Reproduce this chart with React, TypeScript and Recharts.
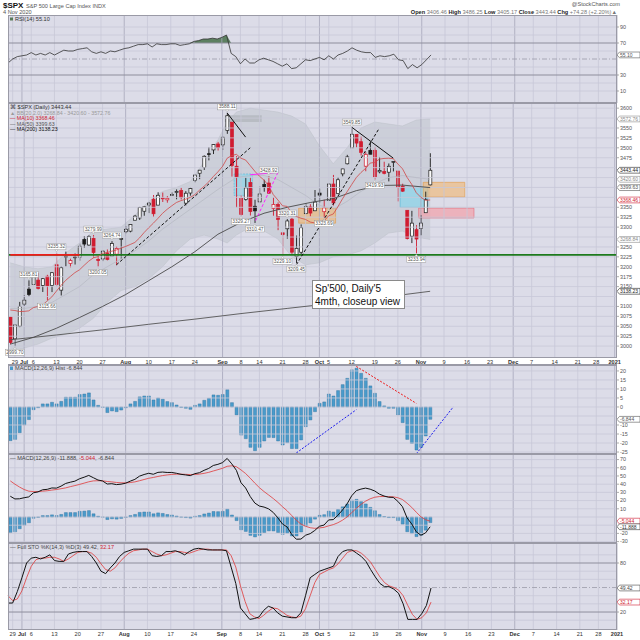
import React from "react"
import { ComposedChart, Bar, Line, Area, XAxis, YAxis, ReferenceLine, ReferenceArea, ReferenceDot } from "recharts"

// ---- price data, Jun 26 .. Nov 4 2020 (one entry per trading day)
const PRIOR_CLOSE = 3083.76
const opens = [
  3073.2, 3018.6, 3050.2, 3105.9, 3143.6, 3155.3, 3166.4, 3153.1, 3176.2, 3152.5,
  3205.1, 3141.1, 3226.0, 3208.4, 3224.2, 3224.3, 3268.5, 3254.9, 3271.6, 3218.6,
  3219.8, 3234.3, 3227.2, 3231.8, 3270.5, 3288.3, 3289.9, 3317.4, 3323.2, 3340.1,
  3356.0, 3370.3, 3355.5, 3372.9, 3368.7, 3380.9, 3387.0, 3392.5, 3360.5, 3386.0,
  3418.1, 3435.9, 3450.0, 3485.1, 3494.7, 3509.7, 3507.4, 3543.8, 3564.7, 3453.6,
  3371.9, 3369.8, 3412.6, 3352.7, 3363.6, 3407.7, 3411.2, 3346.9, 3357.4, 3285.6,
  3295.8, 3320.1, 3226.1, 3236.7, 3333.9, 3350.9, 3341.2, 3385.9, 3338.9, 3367.3,
  3408.7, 3384.6, 3434.3, 3459.7, 3500.0, 3534.0, 3515.5, 3453.7, 3493.5, 3493.7,
  3439.4, 3439.9, 3438.5, 3464.9, 3441.4, 3403.2, 3342.5, 3277.2, 3293.6, 3296.2,
  3336.3, 3406.5,
]
const highs = [
  3073.7, 3053.9, 3111.5, 3128.4, 3165.8, 3182.6, 3184.2, 3171.8, 3179.8, 3186.8,
  3235.3, 3200.9, 3238.3, 3220.4, 3233.5, 3258.6, 3277.3, 3279.3, 3280.0, 3227.3,
  3241.4, 3243.7, 3264.7, 3250.9, 3272.2, 3302.7, 3306.8, 3330.8, 3351.0, 3352.5,
  3363.3, 3381.0, 3387.9, 3387.2, 3378.5, 3387.6, 3395.1, 3399.5, 3390.8, 3400.0,
  3432.1, 3444.2, 3481.1, 3501.4, 3509.2, 3514.8, 3528.0, 3588.1, 3564.9, 3479.2,
  3380.0, 3424.8, 3425.6, 3369.0, 3402.9, 3419.5, 3428.9, 3375.2, 3362.3, 3285.6,
  3320.3, 3323.4, 3278.7, 3306.9, 3360.7, 3357.9, 3393.6, 3397.2, 3369.1, 3409.6,
  3431.6, 3426.3, 3447.3, 3482.3, 3549.9, 3534.0, 3527.9, 3489.1, 3515.8, 3502.4,
  3476.9, 3464.9, 3460.5, 3466.5, 3441.4, 3409.5, 3342.5, 3341.1, 3304.9, 3330.1,
  3389.5, 3486.3,
]
const lows = [
  3004.6, 2999.7, 3047.8, 3101.0, 3124.5, 3155.3, 3142.9, 3136.5, 3115.7, 3136.2,
  3149.4, 3127.7, 3200.8, 3198.6, 3205.7, 3215.2, 3247.8, 3253.1, 3222.7, 3200.1,
  3214.3, 3216.2, 3227.2, 3204.1, 3220.3, 3284.5, 3286.9, 3317.4, 3318.1, 3328.7,
  3335.4, 3326.4, 3355.5, 3363.4, 3361.6, 3379.2, 3370.2, 3369.7, 3354.7, 3379.3,
  3413.1, 3421.0, 3444.2, 3468.4, 3484.3, 3493.2, 3494.6, 3535.2, 3427.4, 3349.6,
  3329.3, 3366.8, 3329.3, 3310.5, 3363.6, 3389.3, 3384.5, 3328.8, 3292.4, 3229.1,
  3271.0, 3232.6, 3209.5, 3228.4, 3332.9, 3327.5, 3340.5, 3361.4, 3323.7, 3367.3,
  3354.5, 3384.6, 3428.2, 3458.1, 3499.6, 3500.9, 3480.6, 3440.9, 3483.8, 3419.9,
  3435.7, 3433.1, 3415.3, 3440.5, 3364.9, 3388.7, 3268.9, 3259.8, 3233.9, 3279.7,
  3336.3, 3405.2,
]
const closes = [
  3009.05, 3053.24, 3100.29, 3115.86, 3130.01, 3179.72, 3145.32, 3169.94, 3152.05, 3185.04,
  3155.22, 3197.52, 3226.56, 3215.57, 3224.73, 3251.84, 3257.3, 3276.02, 3235.66, 3215.63,
  3239.41, 3218.44, 3258.44, 3246.22, 3271.12, 3294.61, 3306.51, 3327.77, 3349.16, 3351.28,
  3360.47, 3333.69, 3380.35, 3373.43, 3372.85, 3381.99, 3389.78, 3374.85, 3385.51, 3397.16,
  3431.28, 3443.62, 3478.73, 3484.55, 3508.01, 3500.31, 3526.65, 3580.84, 3455.06, 3426.96,
  3331.84, 3398.96, 3339.19, 3340.97, 3383.54, 3401.2, 3385.49, 3357.01, 3319.47, 3281.06,
  3315.57, 3236.92, 3246.59, 3298.46, 3351.6, 3335.47, 3363.0, 3380.8, 3348.42, 3408.6,
  3360.97, 3419.44, 3446.83, 3477.14, 3534.22, 3511.93, 3488.67, 3483.34, 3483.81, 3426.92,
  3443.12, 3435.56, 3453.49, 3465.39, 3400.97, 3390.68, 3271.03, 3310.11, 3269.96, 3310.24,
  3369.16, 3443.44,
]
const ma10 = [
  3091.0, 3089.7, 3087.2, 3087.5, 3088.9, 3097.1, 3099.9, 3103.8, 3113.9, 3124.1,
  3138.7, 3153.1, 3165.7, 3175.7, 3185.2, 3192.4, 3203.6, 3214.2, 3222.5, 3225.6,
  3234.0, 3236.1, 3239.3, 3242.4, 3247.0, 3251.3, 3256.2, 3261.4, 3272.7, 3286.3,
  3298.4, 3309.9, 3322.1, 3334.8, 3345.0, 3353.8, 3362.1, 3366.8, 3370.4, 3375.0,
  3382.1, 3393.1, 3402.9, 3414.0, 3427.5, 3439.4, 3453.1, 3473.7, 3480.6, 3483.6,
  3473.7, 3469.2, 3455.2, 3440.9, 3428.4, 3418.5, 3404.4, 3382.0, 3368.5, 3353.9,
  3352.2, 3336.0, 3326.8, 3322.5, 3319.3, 3312.8, 3310.5, 3312.9, 3315.8, 3328.5,
  3333.1, 3351.3, 3371.4, 3389.2, 3407.5, 3425.1, 3437.7, 3448.0, 3461.5, 3463.3,
  3471.5, 3473.2, 3473.8, 3472.6, 3459.3, 3447.2, 3425.4, 3408.1, 3386.7, 3375.1,
  3367.7, 3368.46,
]
// smooth lines, read at intervals: [day index, value]
const ma50Pts = [[0, 3005], [5, 3022], [10, 3045], [15, 3072], [20, 3100], [25, 3130], [30, 3165], [35, 3200], [40, 3238], [45, 3282], [50, 3312], [55, 3335], [60, 3350], [65, 3362], [70, 3372], [75, 3392], [80, 3405], [85, 3406], [91, 3399.63]]
const ma200Pts = [[0, 3016], [10, 3028], [20, 3041], [30, 3055], [40, 3068], [50, 3082], [60, 3095], [70, 3108], [80, 3122], [91, 3138.23]]
// Bollinger bands: [day index, lower, middle, upper]
const bbPts = [
  [0, 2985, 3095, 3210], [3, 2995, 3095, 3200], [6, 3005, 3100, 3195], [9, 3020, 3110, 3200],
  [12, 3030, 3130, 3235], [15, 3045, 3150, 3260], [18, 3070, 3180, 3290], [21, 3110, 3200, 3295],
  [24, 3140, 3220, 3300], [27, 3150, 3240, 3330], [30, 3170, 3265, 3365], [33, 3200, 3295, 3390],
  [36, 3240, 3320, 3400], [39, 3270, 3345, 3415], [42, 3280, 3370, 3465], [45, 3270, 3395, 3520],
  [47, 3260, 3410, 3565], [49, 3280, 3425, 3590], [52, 3300, 3430, 3600], [55, 3290, 3430, 3595],
  [58, 3270, 3420, 3590], [61, 3225, 3400, 3580], [64, 3205, 3380, 3560], [67, 3210, 3355, 3505],
  [70, 3225, 3345, 3460], [73, 3230, 3365, 3500], [76, 3240, 3390, 3550], [79, 3260, 3410, 3565],
  [82, 3285, 3425, 3560], [85, 3290, 3430, 3555], [88, 3275, 3425, 3570], [91, 3268.84, 3420.6, 3572.76],
]

// ---- indicators
const rsi = [
  45, 50, 53, 54, 55, 58, 55, 57, 55, 58,
  55, 58, 61, 60, 60, 62, 63, 64, 59, 57,
  59, 57, 60, 59, 61, 63, 64, 66, 68, 68,
  69, 65, 69, 68, 68, 69, 69, 67, 68, 69,
  72, 73, 75, 75, 76, 75, 77, 80, 57, 53,
  44, 50, 45, 45, 49, 51, 49, 47, 44, 41,
  44, 38, 39, 44, 49, 48, 50, 52, 49, 54,
  50, 55, 57, 60, 64, 61, 59, 58, 58, 52,
  54, 53, 54, 56, 49, 48, 38, 43, 39, 43,
  49, 55.1,
]
const macdHist = [
  -18.7, -18, -14.3, -10, -7, -1.5, -0.4, 1.7, 1.7, 2.6,
  1.7, 3.1, 5.4, 5.4, 5.4, 6.9, 7.2, 7.8, 3.9, 0.9,
  -0.2, -3.1, -2.2, -2.6, -1.7, -0.4, 1.7, 3.1, 5.6, 6.1,
  6.1, 3.9, 5, 4.3, 3, 2.4, 1.1, -0.2, -0.7, -1.3,
  0.9, 1.7, 3.7, 4.8, 6.7, 6.5, 6.9, 9.6, 2.4, -4.4,
  -15.6, -17.6, -22.4, -24.3, -22.4, -18.9, -16.9, -17, -18.9, -21.1,
  -19.8, -23.1, -23.1, -18.3, -10.9, -7.2, -2.6, 2, 2.8, 7.2,
  6.1, 9.1, 12.4, 15.9, 20.6, 21.5, 18.7, 15.9, 11.7, 7.6,
  3, 0.6, -0.7, -0.7, -4.4, -8.7, -18, -20.2, -23.9, -22.4,
  -16.1, -6.844,
]
const macdLine = [
  25.3, 22, 22.2, 23.5, 24.5, 29.5, 30.6, 33.2, 33.7, 35.4,
  35.2, 37.6, 40.9, 42.4, 43.7, 46.6, 48.5, 50.7, 47.9, 45.1,
  43.9, 40.2, 40.6, 39.5, 40, 41.2, 43.7, 45.9, 49.8, 51.8,
  53.3, 52.1, 54.4, 54.8, 54.3, 54.3, 53.3, 52, 51.3, 50.4,
  52.8, 54, 56.9, 59.2, 62.8, 64.2, 66.3, 71.4, 64.8, 56.9,
  41.8, 35.4, 25, 17, 13.3, 12.1, 9.9, 5.5, -1.1, -8.6,
  -12.2, -21.3, -27.1, -26.9, -22.2, -20.3, -16.4, -11.3, -9.8, -3.6,
  -3.2, 2.1, 8.5, 16, 25.9, 32.1, 34, 35.2, 33.9, 31.7,
  27.9, 25.6, 24.1, 23.9, 19.1, 12.6, -1.2, -8.4, -18.1, -22.2,
  -19.4, -11.888,
]
const macdSignal = [
  44, 40, 36.5, 33.5, 31.5, 31, 31, 31.5, 32, 32.8,
  33.5, 34.5, 35.5, 37, 38.3, 39.7, 41.3, 42.9, 44, 44.2,
  44.1, 43.3, 42.8, 42.1, 41.7, 41.6, 42, 42.8, 44.2, 45.7,
  47.2, 48.2, 49.4, 50.5, 51.3, 51.9, 52.2, 52.2, 52, 51.7,
  51.9, 52.3, 53.2, 54.4, 56.1, 57.7, 59.4, 61.8, 62.4, 61.3,
  57.4, 53, 47.4, 41.3, 35.7, 31, 26.8, 22.5, 17.8, 12.5,
  7.6, 1.8, -4, -8.6, -11.3, -13.1, -13.8, -13.3, -12.6, -10.8,
  -9.3, -7, -3.9, 0.1, 5.3, 10.6, 15.3, 19.3, 22.2, 24.1,
  24.9, 25, 24.8, 24.6, 23.5, 21.3, 16.8, 11.8, 5.8, 0.2,
  -3.3, -5.044,
]
const stoK = [
  31, 31, 45, 62, 80, 86, 87, 85, 87, 90,
  83, 82, 82, 91, 93, 94, 94, 94, 88, 80,
  70, 67, 74, 80, 88, 93, 95, 97, 97, 97,
  97, 89, 88, 89, 94, 94, 95, 93, 90, 94,
  97, 98, 97, 96, 96, 96, 96, 95, 75, 55,
  25, 18, 11, 12, 14, 22, 27, 25, 19, 15,
  14, 13, 13, 19, 40, 62, 66, 70, 72, 74,
  76, 88, 94, 96, 96, 92, 88, 82, 72, 63,
  55, 51, 51, 48, 43, 30, 11, 11, 11, 18,
  28, 49.42,
]
const stoD = [
  40, 34, 36, 46, 62, 76, 84, 86, 86, 87,
  87, 85, 82, 85, 89, 93, 94, 94, 92, 87,
  79, 72, 70, 74, 81, 87, 92, 95, 96, 97,
  97, 94, 91, 89, 90, 92, 94, 94, 93, 92,
  94, 96, 97, 97, 96, 96, 96, 96, 89, 75,
  52, 33, 18, 14, 12, 16, 21, 25, 24, 20,
  16, 14, 13, 15, 24, 40, 56, 66, 69, 72,
  74, 79, 86, 93, 95, 95, 92, 87, 81, 72,
  63, 56, 52, 50, 47, 40, 28, 17, 11, 13,
  19, 32.17,
]

// ---- calendar axis (index of trading day -> label), to the end of 2020
const SLOTS = 132
const tickIdx = [1, 3, 5, 10, 15, 20, 25, 30, 35, 40, 46, 50, 54, 59, 64, 67, 69, 74, 79, 84, 89, 94, 99, 104, 109, 113, 118, 123, 127, 131]
const tickLabels = ["29", "Jul", "6", "13", "20", "27", "Aug", "10", "17", "24", "Sep", "8", "14", "21", "28", "Oct", "5", "12", "19", "26", "Nov", "9", "16", "23", "Dec", "7", "14", "21", "28", "2021"]

// ---- axis ticks (grid values, and the labels that are not hidden behind a value tag)
const rsiGrid = [10, 20, 40, 60, 80, 90]
const rsiTicks = [10, 30, 70, 90]
const priceGrid = [3000, 3025, 3050, 3075, 3100, 3125, 3150, 3175, 3200, 3225, 3250, 3275, 3300, 3325, 3350, 3375, 3400, 3425, 3450, 3475, 3500, 3525, 3550, 3575, 3600]
const priceTicks = [3000, 3025, 3050, 3075, 3100, 3150, 3175, 3200, 3225, 3250, 3300, 3325, 3350, 3475, 3500, 3525, 3550, 3600]
const histGrid = [-25, -20, -15, -10, -5, 0, 5, 10, 15, 20]
const histTicks = [-25, -20, -15, -10, 0, 5, 10, 15, 20]
const macdGrid = [-30, -20, -10, 0, 10, 20, 30, 40, 50, 60, 70]
const macdTicks = [-30, -20, 10, 20, 30, 40, 50, 60, 70]
const stoGrid = [10, 30, 40, 60, 70, 90]
const stoTicks = [20, 80]

// ---- swing labels on the price panel
const swingIdx = [1, 4, 8, 10, 18, 19, 22, 47, 50, 53, 56, 59, 60, 62, 68, 74, 79, 88]
const swingPrice = [2999.7, 3165.81, 3115.66, 3235.32, 3279.99, 3200.05, 3264.74, 3588.11, 3329.27, 3310.47, 3428.92, 3229.1, 3320.31, 3209.45, 3323.69, 3549.85, 3419.93, 3233.94]
const swingBelow = [true, false, true, false, false, true, false, false, true, true, false, true, false, true, true, false, true, true]

const PLOT_L = 8
const AXIS_W = 23
const BG = "#dcdce8"
const GRID = "#c8c8d8"
const MONTH = "#a6a6ba"
const RED = "#d01c30"
const FONT = "'Liberation Sans', Arial, sans-serif"

const rows: any[] = Array.from({ length: SLOTS }, (_, i) => {
  const has = i < closes.length
  return {
    i,
    open: has ? opens[i] : null,
    high: has ? highs[i] : null,
    low: has ? lows[i] : null,
    close: has ? closes[i] : null,
    prev: has ? (i === 0 ? PRIOR_CLOSE : closes[i - 1]) : null,
    range: has ? [lows[i], highs[i]] : null,
    ma10: has ? ma10[i] : null,
    rsi: has ? rsi[i] : null,
    ob: has ? [70, Math.max(70, rsi[i])] : null,
    hist: has ? macdHist[i] : null,
    macd: has ? macdLine[i] : null,
    signal: has ? macdSignal[i] : null,
    k: has ? stoK[i] : null,
    d: has ? stoD[i] : null,
    ma50: null,
    ma200: null,
    bb: null,
    bbMid: null,
  }
})
ma50Pts.forEach(([i, v]) => (rows[i].ma50 = v))
ma200Pts.forEach(([i, v]) => (rows[i].ma200 = v))
bbPts.forEach(([i, lo, mid, up]) => {
  rows[i].bb = [lo, up]
  rows[i].bbMid = mid
})

function Candle(props: any) {
  const { x, y, width, height, payload } = props
  if (!payload || payload.open == null) return null
  const { open, high, low, close, prev } = payload
  const top = Math.min(y, y + height)
  const h = Math.abs(height)
  const py = (p: number) => top + (high === low ? 0 : ((high - p) / (high - low)) * h)
  const color = close >= prev ? "#1a1a1a" : RED
  const hollow = close > open
  const cx = x + width / 2
  const bTop = py(Math.max(open, close))
  const bBot = py(Math.min(open, close))
  return (
    <g>
      <line x1={cx} x2={cx} y1={top} y2={top + h} stroke={color} strokeWidth={0.9} />
      <rect x={x} y={bTop} width={width} height={Math.max(0.8, bBot - bTop)} fill={hollow ? "#fbfbfb" : color} stroke={color} strokeWidth={0.7} />
    </g>
  )
}

function SwingTag({ cx, cy, text, below }: any) {
  const w = 19
  const h = 6
  const by = below ? cy + 3 : cy - 3 - h
  const tip = below ? `${cx - 1.5},${by} ${cx + 1.5},${by} ${cx},${by - 2}` : `${cx - 1.5},${by + h} ${cx + 1.5},${by + h} ${cx},${by + h + 2}`
  return (
    <g>
      <rect x={cx - w / 2} y={by} width={w} height={h} fill="#fff" stroke="#9a9a9a" strokeWidth={0.5} />
      <polygon points={tip} fill="#fff" stroke="#9a9a9a" strokeWidth={0.4} />
      <text x={cx} y={by + h - 1.4} fontSize={4.8} textAnchor="middle" fill="#555" fontFamily={FONT}>
        {text}
      </text>
    </g>
  )
}

function makeTick(tags: { v: number; t: string; c: string }[]) {
  return (props: any) => {
    const { x, y, payload } = props
    const tag = tags.find((g) => g.v === payload.value)
    if (tag) {
      return (
        <g>
          <polygon points={`${x},${y} ${x + 2.5},${y - 2.9} ${x + 23},${y - 2.9} ${x + 23},${y + 2.9} ${x + 2.5},${y + 2.9}`} fill="#fff" stroke={tag.c} strokeWidth={0.6} />
          <text x={x + 3} y={y + 1.8} fontSize={5} fill={tag.c} fontFamily={FONT}>
            {tag.t}
          </text>
        </g>
      )
    }
    return (
      <g>
        <line x1={x} x2={x + 2} y1={y} y2={y} stroke="#777" strokeWidth={0.6} />
        <text x={x + 3} y={y + 1.8} fontSize={5.4} fill="#555" fontFamily={FONT}>
          {payload.value}
        </text>
      </g>
    )
  }
}

function DateTick(props: any) {
  const { x, y, payload } = props
  const k = tickIdx.indexOf(payload.value)
  const label = tickLabels[k]
  const month = isNaN(Number(label)) || label === "2021"
  return (
    <text x={x} y={y + 5.5} fontSize={5.6} textAnchor="middle" fill="#333" fontWeight={month ? "bold" : "normal"} fontFamily={FONT}>
      {label}
    </text>
  )
}

function vGrid() {
  return tickIdx.map((t, k) => {
    const label = tickLabels[k]
    const month = isNaN(Number(label)) || label === "2021"
    return <ReferenceLine key={"v" + t} x={t} stroke={month ? MONTH : GRID} strokeWidth={0.8} />
  })
}

function hGrid(values: number[], color = GRID) {
  return values.map((v) => <ReferenceLine key={"h" + v} y={v} stroke={color} strokeWidth={0.8} />)
}

const priceTags = [
  { v: 3572.76, t: "3572.76", c: "#8a8a8a" },
  { v: 3443.44, t: "3443.44", c: "#222" },
  { v: 3420.6, t: "3420.60", c: "#8a8a8a" },
  { v: 3399.63, t: "3399.63", c: "#555" },
  { v: 3368.46, t: "3368.46", c: RED },
  { v: 3268.84, t: "3268.84", c: "#8a8a8a" },
  { v: 3138.23, t: "3138.23", c: "#222" },
]
const rsiTags = [{ v: 55.1, t: "55.10", c: "#555" }]
const histTags = [{ v: -6.844, t: "-6.844", c: "#555" }]
const macdTags = [
  { v: -5.044, t: "-5.044", c: RED },
  { v: -11.888, t: "-11.888", c: "#333" },
]
const stoTags = [
  { v: 49.42, t: "49.42", c: "#444" },
  { v: 32.17, t: "32.17", c: RED },
]

const panels = [
  { top: 15, h: 88 },
  { top: 103, h: 255 },
  { top: 365, h: 89 },
  { top: 454, h: 89 },
  { top: 543, h: 87 },
]

function Frame() {
  return (
    <>
      {panels.map((p, k) => (
        <div key={"bg" + k} style={{ position: "absolute", left: PLOT_L, top: p.top, width: 640 - AXIS_W - PLOT_L, height: p.h, background: BG }} />
      ))}
    </>
  )
}

function Borders() {
  return (
    <>
      {panels.map((p, k) => (
        <div key={"bd" + k} style={{ position: "absolute", left: PLOT_L, top: p.top, width: 640 - AXIS_W - PLOT_L, height: p.h, border: "1px solid #9a9aa6", boxSizing: "border-box", pointerEvents: "none" }} />
      ))}
      <div style={{ position: "absolute", left: PLOT_L, top: 358, width: 640 - AXIS_W - PLOT_L, height: 7, borderBottom: "1px solid #9a9aa6", boxSizing: "border-box" }} />
    </>
  )
}

const margin = { top: 0, right: 0, bottom: 0, left: PLOT_L }
const visible = { overflow: "visible" as const }
const yAxisCommon = { orientation: "right" as const, width: AXIS_W, allowDataOverflow: true, interval: 0 as const, tickSize: 0, tickMargin: 0, axisLine: false }

function RsiPanel() {
  return (
    <ComposedChart width={640} height={88} data={rows} margin={margin} style={visible}>
      <XAxis dataKey="i" type="category" hide />
      <YAxis {...yAxisCommon} domain={[-5, 105]} ticks={[...rsiTicks, 55.1]} tick={makeTick(rsiTags)} />
      {vGrid()}
      {hGrid(rsiGrid)}
      <ReferenceLine y={70} stroke="#8e8e9c" strokeWidth={1} />
      <ReferenceLine y={30} stroke="#8e8e9c" strokeWidth={1} />
      <ReferenceLine y={50} stroke="#9a9aa8" strokeWidth={0.8} strokeDasharray="5 2 1 2" />
      <Area dataKey="ob" stroke="none" fill="#4f7552" fillOpacity={0.9} isAnimationActive={false} />
      <Line dataKey="rsi" stroke="#333" strokeWidth={0.8} dot={false} isAnimationActive={false} />
    </ComposedChart>
  )
}

function PricePanel() {
  return (
    <ComposedChart width={640} height={262} data={rows} margin={margin} style={visible}>
      <XAxis dataKey="i" type="category" height={7} ticks={tickIdx} interval={0} tickSize={0} tickMargin={0} axisLine={false} tick={<DateTick />} />
      <YAxis {...yAxisCommon} domain={[2970, 3613]} ticks={[...priceTicks, ...priceTags.map((t) => t.v)]} tick={makeTick(priceTags)} />
      {vGrid()}
      {hGrid(priceGrid)}
      <Area dataKey="bb" connectNulls stroke="#bcc0c8" strokeWidth={0.5} fill="#bcc1ca" fillOpacity={0.5} isAnimationActive={false} />
      <Line dataKey="bbMid" connectNulls stroke="#b4b8c2" strokeWidth={0.7} dot={false} isAnimationActive={false} />
      <ReferenceLine y={3230} stroke="#1d7a1d" strokeWidth={1.8} />
      <ReferenceLine segment={[{ x: 0, y: 3230 }, { x: 15, y: 3230 }]} stroke="#ee1c1c" strokeWidth={1.8} />
      <ReferenceArea x1={47} x2={54} y1={3565} y2={3582} fill="#b6bac2" fillOpacity={0.95} stroke="none" />
      <ReferenceArea x1={49} x2={52} y1={3380} y2={3434} fill="#8fd6ea" fillOpacity={0.7} stroke="#56b8d8" strokeDasharray="2 1" strokeWidth={0.6} />
      <ReferenceArea x1={63} x2={70} y1={3310} y2={3348} fill="#f0b878" fillOpacity={0.65} stroke="#e09a48" strokeWidth={0.6} />
      <ReferenceArea x1={85} x2={90} y1={3350} y2={3401} fill="#8fd6ea" fillOpacity={0.75} stroke="#56b8d8" strokeWidth={0.6} />
      <ReferenceArea x1={90} x2={98} y1={3376} y2={3413} fill="#f0b878" fillOpacity={0.65} stroke="#e09a48" strokeWidth={0.6} />
      <ReferenceArea x1={89} x2={100} y1={3323} y2={3348} fill="#f2a0aa" fillOpacity={0.7} stroke="#e06a78" strokeWidth={0.6} />
      <Line dataKey="ma200" connectNulls stroke="#555" strokeWidth={0.9} dot={false} isAnimationActive={false} />
      <Line dataKey="ma50" connectNulls stroke="#4a4a4a" strokeWidth={0.9} dot={false} isAnimationActive={false} />
      <Line dataKey="ma10" stroke="#d04848" strokeWidth={0.8} dot={false} isAnimationActive={false} />
      <Bar dataKey="range" barSize={3} shape={<Candle />} isAnimationActive={false} />
      <ReferenceLine segment={[{ x: 23, y: 3205 }, { x: 52, y: 3500 }]} stroke="#111" strokeWidth={1} strokeDasharray="3 2" />
      <ReferenceLine segment={[{ x: 47, y: 3588 }, { x: 51, y: 3527 }]} stroke="#111" strokeWidth={1} />
      <ReferenceLine segment={[{ x: 52, y: 3432 }, { x: 58, y: 3438 }]} stroke="#ff22ff" strokeWidth={1} />
      <ReferenceLine segment={[{ x: 58, y: 3438 }, { x: 53, y: 3312 }]} stroke="#ff22ff" strokeWidth={1} strokeDasharray="3 2" />
      <ReferenceLine segment={[{ x: 62, y: 3205 }, { x: 80, y: 3550 }]} stroke="#111" strokeWidth={1} strokeDasharray="3 2" />
      <ReferenceLine segment={[{ x: 74, y: 3552 }, { x: 83, y: 3474 }]} stroke="#111" strokeWidth={1} />
      {swingIdx.map((ix, k) => (
        <ReferenceDot key={"s" + k} x={ix} y={swingPrice[k]} r={0} ifOverflow="visible" shape={(p: any) => <SwingTag cx={p.cx} cy={p.cy} text={swingPrice[k].toFixed(2)} below={swingBelow[k]} />} />
      ))}
    </ComposedChart>
  )
}

function HistPanel() {
  return (
    <ComposedChart width={640} height={89} data={rows} margin={margin} style={visible}>
      <XAxis dataKey="i" type="category" hide />
      <YAxis {...yAxisCommon} domain={[-26.1, 23.3]} ticks={[...histTicks, -6.844]} tick={makeTick(histTags)} />
      {vGrid()}
      {hGrid(histGrid)}
      <Bar dataKey="hist" barSize={3} fill="#4a9bcb" stroke="#2b6f9c" strokeWidth={0.4} isAnimationActive={false} />
      <ReferenceLine segment={[{ x: 62, y: -25.5 }, { x: 75, y: -1.5 }]} stroke="#1a1aee" strokeWidth={1} strokeDasharray="2 1.5" />
      <ReferenceLine segment={[{ x: 75, y: 22.5 }, { x: 88, y: 2 }]} stroke="#ee1a1a" strokeWidth={1} strokeDasharray="2 1.5" />
      <ReferenceLine segment={[{ x: 88, y: -26 }, { x: 96, y: 0 }]} stroke="#1a1aee" strokeWidth={1} strokeDasharray="2 1.5" />
    </ComposedChart>
  )
}

function MacdPanel() {
  return (
    <ComposedChart width={640} height={89} data={rows} margin={margin} style={visible}>
      <XAxis dataKey="i" type="category" hide />
      <YAxis {...yAxisCommon} domain={[-31.7, 76.8]} ticks={[...macdTicks, -5.044, -11.888]} tick={makeTick(macdTags)} />
      {vGrid()}
      {hGrid(macdGrid)}
      <Bar dataKey="hist" barSize={3} fill="#4a9bcb" stroke="#2b6f9c" strokeWidth={0.4} isAnimationActive={false} />
      <Line dataKey="signal" stroke="#e03a3a" strokeWidth={0.8} dot={false} isAnimationActive={false} />
      <Line dataKey="macd" stroke="#111" strokeWidth={1} dot={false} isAnimationActive={false} />
    </ComposedChart>
  )
}

function StoPanel() {
  return (
    <ComposedChart width={640} height={97} data={rows} margin={margin} style={visible}>
      <XAxis dataKey="i" type="category" height={10} ticks={tickIdx} interval={0} tickSize={0} tickMargin={0} axisLine={false} tick={<DateTick />} />
      <YAxis {...yAxisCommon} domain={[-2, 104.5]} ticks={[...stoTicks, 49.42, 32.17]} tick={makeTick(stoTags)} />
      {vGrid()}
      {hGrid(stoGrid)}
      <ReferenceLine y={80} stroke="#8e8e9c" strokeWidth={1} />
      <ReferenceLine y={20} stroke="#8e8e9c" strokeWidth={1} />
      <ReferenceLine y={50} stroke="#9a9aa8" strokeWidth={0.8} strokeDasharray="5 2 1 2" />
      <Line dataKey="d" stroke="#e03a3a" strokeWidth={0.8} dot={false} isAnimationActive={false} />
      <Line dataKey="k" stroke="#111" strokeWidth={1} dot={false} isAnimationActive={false} />
    </ComposedChart>
  )
}

function Texts() {
  const s = { fontFamily: FONT }
  return (
    <svg width={640} height={640} style={{ position: "absolute", left: 0, top: 0, pointerEvents: "none" }}>
      <g style={s}>
        <text x={3} y={7.5} fontSize={8} fontWeight="bold" fill="#111">$SPX</text>
        <text x={26} y={7.5} fontSize={5.6} fill="#555">S&amp;P 500 Large Cap Index INDX</text>
        <text x={3} y={14} fontSize={5.6} fill="#555">4 Nov 2020</text>
        <text x={620} y={6} fontSize={5.6} fill="#555" textAnchor="end">@StockCharts.com</text>
        <text x={617} y={13.5} fontSize={5.6} fill="#777" textAnchor="end">
          <tspan fontWeight="bold" fill="#222">Open </tspan>3406.46 <tspan fontWeight="bold" fill="#222">High </tspan>3486.25 <tspan fontWeight="bold" fill="#222">Low </tspan>3405.17 <tspan fontWeight="bold" fill="#222">Close </tspan>3443.44 <tspan fontWeight="bold" fill="#222">Chg </tspan>+74.28 (+2.20%)▲
        </text>

        <rect x={10} y={17.5} width={3} height={3} fill="#5a7a5a" />
        <text x={15} y={21} fontSize={5.6} fill="#333">RSI(14) 55.10</text>

        <text x={10} y={109} fontSize={5.6} fill="#333">⌘ $SPX (Daily) 3443.44</text>
        <text x={10} y={114.5} fontSize={5.3} fill="#999">▲ BB(20,2.0) 3268.84 - 3420.60 - 3572.76</text>
        <text x={10} y={120} fontSize={5.3} fill={RED}>— MA(10) 3368.46</text>
        <text x={10} y={125.5} fontSize={5.3} fill="#555">— MA(50) 3399.63</text>
        <text x={10} y={131} fontSize={5.3} fill="#111">— MA(200) 3138.23</text>

        <rect x={10} y={366.5} width={3} height={3.5} fill="#4a9bcb" />
        <text x={15} y={370} fontSize={5.6} fill="#444">MACD(12,26,9) Hist -6.844</text>

        <text x={10} y={459.5} fontSize={5.6} fill="#444">
          — MACD(12,26,9) -11.888, <tspan fill={RED}>-5.044</tspan>, -6.844
        </text>
        <text x={10} y={549} fontSize={5.6} fill="#444">
          — Full STO %K(14,3) %D(3) 49.42, <tspan fill={RED}>32.17</tspan>
        </text>
      </g>
    </svg>
  )
}

export default function App() {
  const abs = (top: number): React.CSSProperties => ({ position: "absolute", left: 0, top })
  return (
    <div style={{ position: "fixed", left: 0, top: 0, width: 640, height: 640, background: "#fff", overflow: "hidden", fontFamily: FONT }}>
      <Frame />
      <div style={abs(15)}><RsiPanel /></div>
      <div style={abs(103)}><PricePanel /></div>
      <div style={abs(365)}><HistPanel /></div>
      <div style={abs(454)}><MacdPanel /></div>
      <div style={abs(543)}><StoPanel /></div>
      <Borders />
      <Texts />
      <div style={{ position: "absolute", left: 312, top: 280, width: 93, height: 29, background: "#fff", border: "1px solid #8a8a8a", boxSizing: "border-box", fontSize: 10, lineHeight: "13px", padding: "1px 2px", color: "#111", fontFamily: FONT }}>
        Sp'500, Daily'5
        <br />
        4mth, closeup view
      </div>
    </div>
  )
}
